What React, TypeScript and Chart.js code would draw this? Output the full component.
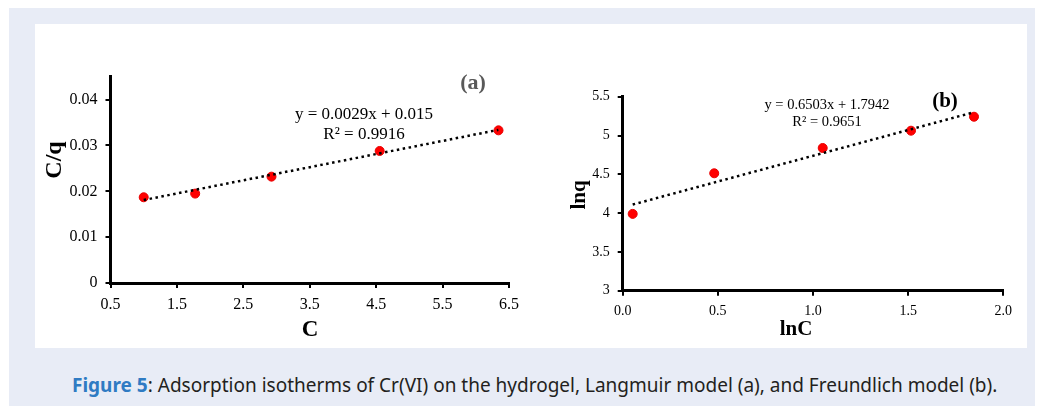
import React, { useEffect, useRef } from "react";
import { Chart, registerables } from "chart.js";

Chart.register(...registerables);

// ---- Data: panel (a) Langmuir ----
const cA: number[] = [1.0, 1.775, 2.924, 4.553, 6.342];
const cqA: number[] = [0.0187, 0.0195, 0.0232, 0.0288, 0.0333];
const trendAx: number[] = [1.0, 6.34];
const trendAy: number[] = [0.0181, 0.0334];
const xTicksA: string[] = ["0.5", "1.5", "2.5", "3.5", "4.5", "5.5", "6.5"];
const yTicksA: string[] = ["0", "0.01", "0.02", "0.03", "0.04"];

// ---- Data: panel (b) Freundlich ----
const lnCB: number[] = [0.0525, 0.481, 1.051, 1.515, 1.846];
const lnqB: number[] = [3.99, 4.513, 4.839, 5.062, 5.242];
const trendBx: number[] = [0.0525, 1.846];
const trendBy: number[] = [4.11, 5.3];
const xTicksB: string[] = ["0.0", "0.5", "1.0", "1.5", "2.0"];
const yTicksB: string[] = ["3", "3.5", "4", "4.5", "5", "5.5"];

type Txt = { t: string; x: number; y: number; font: string; color?: string; rot?: number };

const textPlugin = (items: Txt[]) => ({
  id: "texts",
  afterDraw(chart: any) {
    const ctx = chart.ctx;
    ctx.save();
    for (const it of items) {
      ctx.save();
      ctx.translate(it.x, it.y);
      if (it.rot) ctx.rotate(it.rot);
      ctx.font = it.font;
      ctx.fillStyle = it.color || "#000";
      ctx.textAlign = "center";
      ctx.textBaseline = "middle";
      ctx.fillText(it.t, 0, 0);
      ctx.restore();
    }
    ctx.restore();
  },
});

const serif = "'Liberation Serif', 'Times New Roman', serif";

function makeConfig(opts: {
  xs: number[]; ys: number[]; tx: number[]; ty: number[];
  xMin: number; xMax: number; xStep: number; xLabels: string[];
  yMin: number; yMax: number; yStep: number; yLabels: string[];
  pad: { left: number; top: number; right: number; bottom: number };
  yWidth: number; xHeight: number; tickFont: number; texts: Txt[];
}) {
  const tickColor = "#000";
  return {
    type: "scatter" as const,
    data: {
      datasets: [
        {
          data: opts.tx.map((x, i) => ({ x, y: opts.ty[i] })),
          showLine: true,
          borderColor: "#000",
          borderWidth: 2.5,
          borderDash: [2.5, 3.5],
          pointRadius: 0,
          fill: false,
          order: 0,
        },
        {
          data: opts.xs.map((x, i) => ({ x, y: opts.ys[i] })),
          showLine: false,
          backgroundColor: "#FF0000",
          borderColor: "#E80000",
          borderWidth: 1,
          pointRadius: 4.5,
          order: 1,
        },
      ],
    },
    options: {
      animation: false as const,
      responsive: false,
      maintainAspectRatio: false,
      events: [],
      layout: { padding: opts.pad },
      plugins: { legend: { display: false }, tooltip: { enabled: false }, title: { display: false } },
      scales: {
        x: {
          type: "linear" as const,
          min: opts.xMin,
          max: opts.xMax,
          afterFit: (s: any) => { s.height = opts.xHeight; },
          border: { display: true, color: "#000", width: 3 },
          grid: { drawOnChartArea: false, drawTicks: true, tickLength: 5, color: tickColor, lineWidth: 2 },
          ticks: {
            stepSize: opts.xStep,
            includeBounds: false,
            autoSkip: false,
            maxRotation: 0,
            minRotation: 0,
            padding: 7,
            color: "#000",
            font: { family: serif, size: opts.tickFont },
            callback: (_v: any, i: number) => opts.xLabels[i],
          },
        },
        y: {
          type: "linear" as const,
          min: opts.yMin,
          max: opts.yMax,
          afterFit: (s: any) => { s.width = opts.yWidth; },
          border: { display: true, color: "#000", width: 3 },
          grid: { drawOnChartArea: false, drawTicks: true, tickLength: 5, color: tickColor, lineWidth: 2 },
          ticks: {
            stepSize: opts.yStep,
            includeBounds: false,
            autoSkip: false,
            padding: 8,
            color: "#000",
            font: { family: serif, size: opts.tickFont },
            callback: (_v: any, i: number) => opts.yLabels[i],
          },
        },
      },
    },
    plugins: [textPlugin(opts.texts)],
  };
}

function ChartCanvas({ config, width, height, left }: any) {
  const ref = useRef<HTMLCanvasElement | null>(null);
  useEffect(() => {
    if (!ref.current) return;
    const chart = new Chart(ref.current, config);
    return () => chart.destroy();
  }, []);
  return (
    <canvas
      ref={ref}
      width={width}
      height={height}
      style={{ position: "absolute", left, top: 0, width, height }}
    />
  );
}

export default function App() {
  useEffect(() => {
    document.documentElement.style.overflow = "hidden";
    document.body.style.overflow = "hidden";
  }, []);

  const cfgA = makeConfig({
    xs: cA, ys: cqA, tx: trendAx, ty: trendAy,
    xMin: 0.5, xMax: 6.5, xStep: 1, xLabels: xTicksA,
    yMin: 0, yMax: 0.045, yStep: 0.01, yLabels: yTicksA,
    pad: { left: 0, top: 52.7, right: 31, bottom: 0 },
    yWidth: 75.5, xHeight: 65, tickFont: 16,
    texts: [
      { t: "C", x: 275, y: 306, font: `bold 23px ${serif}` },
      { t: "C/q", x: 20, y: 136, font: `bold 24px ${serif}`, rot: -Math.PI / 2 },
      { t: "(a)", x: 438, y: 59, font: `bold 22px ${serif}`, color: "#595959" },
      { t: "y = 0.0029x + 0.015", x: 329, y: 91, font: `17px ${serif}` },
      { t: "R² = 0.9916", x: 329, y: 111, font: `17px ${serif}` },
    ],
  });

  const cfgB = makeConfig({
    xs: lnCB, ys: lnqB, tx: trendBx, ty: trendBy,
    xMin: 0, xMax: 2, xStep: 0.5, xLabels: xTicksB,
    yMin: 3, yMax: 5.5, yStep: 0.5, yLabels: yTicksB,
    pad: { left: 0, top: 72.7, right: 23.7, bottom: 0 },
    yWidth: 82.7, xHeight: 57.3, tickFont: 14,
    texts: [
      { t: "lnC", x: 256, y: 306, font: `bold 21px ${serif}` },
      { t: "lnq", x: 40, y: 171, font: `bold 21px ${serif}`, rot: -Math.PI / 2 },
      { t: "(b)", x: 405, y: 78, font: `bold 21px ${serif}` },
      { t: "y = 0.6503x + 1.7942", x: 287, y: 81, font: `14.5px ${serif}` },
      { t: "R² = 0.9651", x: 287, y: 98, font: `14.5px ${serif}` },
    ],
  });

  return (
    <div
      style={{
        position: "relative",
        width: 1034,
        height: 398,
        marginLeft: 1,
        background: "#E8ECF6",
        overflow: "hidden",
      }}
    >
      <div
        style={{
          position: "absolute",
          left: 26,
          top: 16,
          width: 992,
          height: 324,
          background: "#FFFFFF",
        }}
      >
        <ChartCanvas config={cfgA} width={505} height={324} left={0} />
        <ChartCanvas config={cfgB} width={487} height={324} left={505} />
      </div>
      <div
        style={{
          position: "absolute",
          left: 63,
          top: 364,
          height: 26,
          lineHeight: "26px",
          whiteSpace: "nowrap",
          fontFamily: "'Noto Sans', 'Open Sans', sans-serif",
          fontSize: 19,
          color: "#231F20",
        }}
      >
        <span style={{ color: "#2F7BC3", fontWeight: 700 }}>Figure 5</span>
        : Adsorption isotherms of Cr(VI) on the hydrogel, Langmuir model (a), and Freundlich model (b).
      </div>
    </div>
  );
}
